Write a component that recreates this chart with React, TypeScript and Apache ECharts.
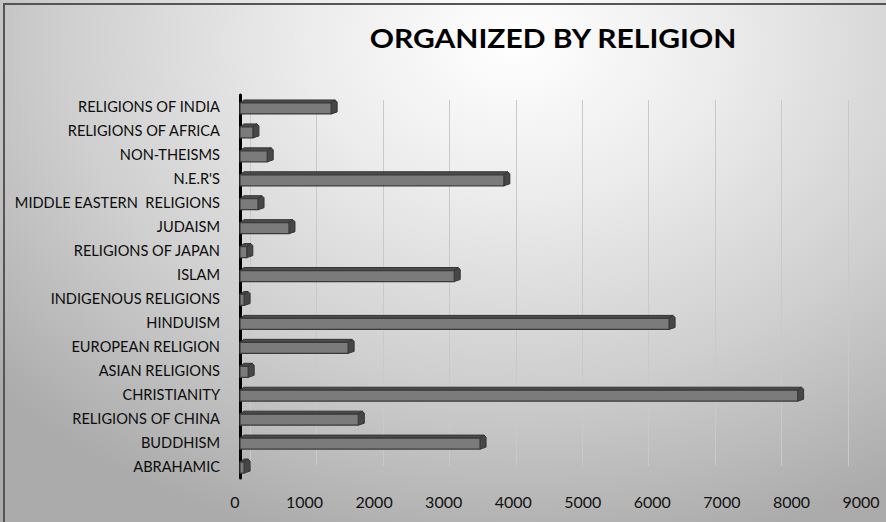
import React, { useEffect, useRef } from "react";
import * as echarts from "echarts";

const TITLE = "ORGANIZED BY RELIGION";

// top to bottom as in the picture
const categories = [
  "RELIGIONS OF INDIA",
  "RELIGIONS OF AFRICA",
  "NON-THEISMS",
  "N.E.R'S",
  "MIDDLE EASTERN  RELIGIONS",
  "JUDAISM",
  "RELIGIONS OF JAPAN",
  "ISLAM",
  "INDIGENOUS RELIGIONS",
  "HINDUISM",
  "EUROPEAN RELIGION",
  "ASIAN RELIGIONS",
  "CHRISTIANITY",
  "RELIGIONS OF CHINA",
  "BUDDHISM",
  "ABRAHAMIC",
];

const values = [
  1340, 190, 400, 3880, 265, 720, 100, 3150, 60, 6310, 1590, 120, 8200, 1740,
  3530, 60,
];

const xMin = 0;
const xMax = 9000;
const xInterval = 1000;

const FONT = "Lato, 'Open Sans', sans-serif";

export default function App() {
  const ref = useRef<HTMLDivElement>(null);

  useEffect(() => {
    document.body.style.margin = "0";
    const chart = echarts.init(ref.current!, null, { renderer: "svg" });

    const renderItem = (params: any, api: any) => {
      const v = api.value(0);
      const c = api.value(1);
      const p0 = api.coord([0, c]);
      const p1 = api.coord([v, c]);
      const x0 = p0[0];
      const x1 = Math.max(p1[0], x0 + 2);
      const cy = p0[1];
      return {
        type: "group",
        children: [
          {
            type: "polygon",
            shape: {
              points: [
                [x0, cy - 4],
                [x0 + 4, cy - 7],
                [x1 + 4, cy - 7],
                [x1, cy - 4],
              ],
            },
            style: { fill: "#4c4c4c", stroke: "#333", lineWidth: 1 },
          },
          {
            type: "polygon",
            shape: {
              points: [
                [x1, cy - 4],
                [x1 + 4, cy - 7],
                [x1 + 6, cy - 5],
                [x1 + 6, cy + 5],
                [x1, cy + 7],
              ],
            },
            style: { fill: "#474747", stroke: "#333", lineWidth: 1 },
          },
          {
            type: "rect",
            shape: { x: x0, y: cy - 4, width: x1 - x0, height: 11 },
            style: { fill: "#7b7b7b", stroke: "#3a3a3a", lineWidth: 1.2 },
          },
        ],
      };
    };

    chart.setOption({
      animation: false,
      backgroundColor: "transparent",
      grid: [
        { left: 240, right: 34, top: 95, bottom: 44 },
        { left: 250, right: 38, top: 100, bottom: 56 },
        { left: 235, right: 25, top: 100, bottom: 36 },
      ],
      xAxis: [
        {
          gridIndex: 0,
          type: "value",
          min: xMin,
          max: xMax,
          interval: xInterval,
          axisLabel: { show: false },
          axisLine: { show: false },
          axisTick: { show: false },
          splitLine: { show: false },
        },
        {
          gridIndex: 1,
          type: "value",
          min: xMin,
          max: xMax,
          interval: xInterval,
          axisLabel: { show: false },
          axisLine: { show: false },
          axisTick: { show: false },
          splitLine: { show: true, lineStyle: { color: "#c9c9c9", width: 1 } },
        },
        {
          gridIndex: 2,
          type: "value",
          min: xMin,
          max: xMax,
          interval: xInterval,
          axisLabel: {
            show: true,
            color: "#111",
            fontFamily: FONT,
            fontSize: 16,
            margin: 7,
            formatter: (v: number) => String(v),
          },
          axisLine: { show: false },
          axisTick: { show: false },
          splitLine: { show: false },
        },
      ],
      yAxis: [
        {
          gridIndex: 0,
          type: "category",
          data: categories,
          inverse: true,
          offset: 4,
          axisLine: { show: true, lineStyle: { color: "#000", width: 3 } },
          axisTick: { show: false },
          axisLabel: {
            color: "#0d0d0d",
            fontFamily: FONT,
            fontSize: 14.6,
            margin: 16,
          },
          splitLine: { show: false },
        },
        {
          gridIndex: 1,
          type: "category",
          data: categories,
          inverse: true,
          show: false,
        },
        {
          gridIndex: 2,
          type: "category",
          data: categories,
          inverse: true,
          show: false,
        },
      ],
      graphic: [
        {
          type: "rect",
          shape: { x: 4, y: 4, width: 900, height: 600 },
          style: { fill: "none", stroke: "#555", lineWidth: 2 },
          silent: true,
        },
        {
          type: "text",
          x: 553,
          y: 38,
          scaleY: 0.88,
          style: {
            text: TITLE,
            font: `bold 30px ${FONT}`,
            fill: "#000",
            textAlign: "center",
            textVerticalAlign: "middle",
          },
        },
      ],
      series: [
        {
          type: "custom",
          xAxisIndex: 0,
          yAxisIndex: 0,
          renderItem,
          encode: { x: 0, y: 1 },
          data: values.map((v, i) => [v, i]),
        },
      ],
    });

    return () => chart.dispose();
  }, []);

  return (
    <div
      style={{
        position: "absolute",
        left: 0,
        top: 0,
        width: 886,
        height: 522,
        overflow: "hidden",
        background:
          "radial-gradient(ellipse 78% 100% at 58% 8%, #ffffff 0%, #ececec 30%, #cfcfcf 65%, #ababab 100%)",
      }}
    >
      <div ref={ref} style={{ width: 886, height: 522 }} />
    </div>
  );
}
